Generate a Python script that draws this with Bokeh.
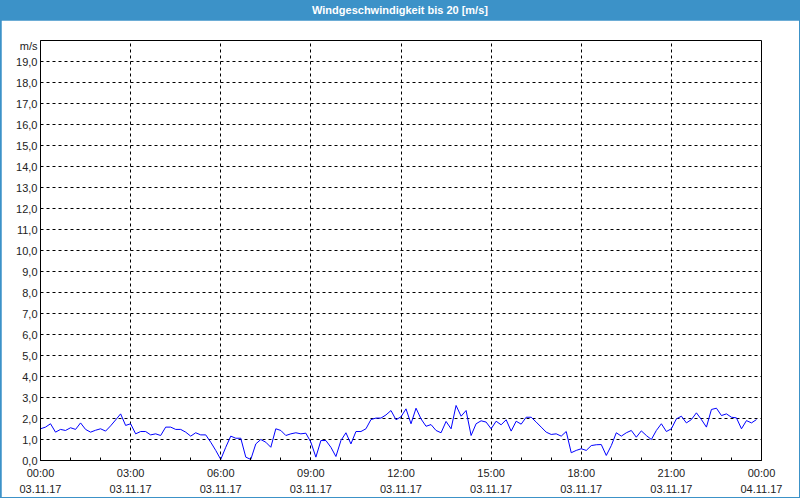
import pandas as pd
from bokeh.plotting import figure
from bokeh.models import Range1d, FixedTicker, DatetimeTickFormatter, Div
from bokeh.layouts import column
from bokeh.embed import file_html
from bokeh.resources import INLINE

title_text = "Windgeschwindigkeit bis 20 [m/s]"
unit_label = "m/s"
start = "2017-11-03 00:00"
end = "2017-11-04 00:00"

wind = [
    1.51, 1.59, 1.75, 1.35, 1.48, 1.43, 1.56, 1.48, 1.79, 1.48, 1.35, 1.44, 1.51, 1.40, 1.65, 1.93, 2.22, 1.67, 1.75, 1.27, 1.38, 1.38, 1.22, 1.27, 1.19,
    1.59, 1.59, 1.48, 1.48, 1.35, 1.16, 1.32, 1.22, 1.22, 0.87, 0.48, 0.05, 0.63, 1.16, 1.06, 1.06, 0.16, 0.05, 0.79, 1.00, 0.87, 0.63, 1.51, 1.43,
    1.19, 1.27, 1.32, 1.27, 1.30, 0.87, 0.16, 0.95, 0.95, 0.63, 0.19, 0.95, 1.32, 0.79, 1.38, 1.38, 1.51, 1.95, 2.02, 2.02, 2.17, 2.38, 1.94, 2.08,
    2.46, 1.75, 2.49, 1.98, 1.63, 1.71, 1.43, 1.32, 1.86, 1.51, 2.62, 2.11, 2.38, 1.19, 1.75, 1.89, 1.83, 1.51, 1.87, 1.70, 1.94, 1.40, 1.87, 1.73,
    2.06, 2.06, 1.83, 1.59, 1.35, 1.24, 1.27, 1.16, 1.38, 0.37, 0.48, 0.56, 0.48, 0.71, 0.75, 0.76, 0.24, 0.71, 1.32, 1.16, 1.32, 1.43, 1.11, 1.41,
    1.19, 1.00, 1.43, 1.75, 1.38, 1.51, 1.98, 2.11, 1.79, 1.95, 2.27, 1.95, 1.59, 2.43, 2.49, 2.14, 2.22, 2.06, 2.03, 1.51, 1.90, 1.79, 1.95,
]
times = pd.date_range(start, periods=len(wind), freq="10min")

y_ticks = list(range(0, 20))
y_tick_labels = {t: f"{t},0" for t in y_ticks}
unit_tick = 19.76  # where the unit caption sits on the value axis
y_tick_labels[unit_tick] = unit_label

t0 = pd.Timestamp(start)
t1 = pd.Timestamp(end)
ms = lambda t: t.value / 1e6
major_x = [ms(t) for t in pd.date_range(start, end, freq="3h")]
minor_x = [ms(t) for t in pd.date_range(start, end, freq="1h")]

FONT = "Liberation Sans"
TXT = "#222222"

p = figure(width=798, height=477, output_backend="svg", toolbar_location=None,
           x_axis_type="datetime",
           x_range=Range1d(t0, t1), y_range=Range1d(0, 20),
           min_border_left=39, min_border_right=38, min_border_top=20, min_border_bottom=37,
           background_fill_color="white", border_fill_color="white",
           margin=(0, 1, 1, 1))

p.line(times, wind, line_color="#0000ff", line_width=1)

p.outline_line_color = "black"
p.outline_line_width = 1

xa = p.xaxis[0]
xa.ticker = FixedTicker(ticks=major_x, minor_ticks=minor_x)
fmt = "%H:%M\n%d.%m.%y"
xa.formatter = DatetimeTickFormatter(microseconds=fmt, milliseconds=fmt, seconds=fmt, minsec=fmt,
                                     minutes=fmt, hourmin=fmt, hours=fmt, days=fmt, months=fmt, years=fmt)
xa.major_tick_in = 0
xa.major_tick_out = 0
xa.minor_tick_in = 3
xa.minor_tick_out = 0
xa.minor_tick_line_color = "black"
xa.axis_line_color = "black"
xa.major_label_standoff = 6
xa.major_label_text_font = FONT
xa.major_label_text_font_size = "11px"
xa.major_label_text_color = TXT
xa.major_label_text_line_height = 1.35

ya = p.yaxis[0]
ya.ticker = FixedTicker(ticks=y_ticks + [unit_tick])
ya.major_label_overrides = y_tick_labels
ya.major_tick_in = 0
ya.major_tick_out = 0
ya.minor_tick_line_color = None
ya.axis_line_color = "black"
ya.major_label_standoff = 3
ya.major_label_text_font = FONT
ya.major_label_text_font_size = "11px"
ya.major_label_text_color = TXT

p.xgrid[0].ticker = FixedTicker(ticks=major_x)
p.ygrid[0].ticker = FixedTicker(ticks=y_ticks)
for g in (p.xgrid[0], p.ygrid[0]):
    g.grid_line_color = "black"
    g.grid_line_dash = "3 3"
    g.grid_line_width = 1

title = Div(text=title_text, width=800, height=20, margin=0,
            styles={"background-color": "#3c92c8", "color": "white", "font-family": FONT,
                    "font-weight": "bold", "font-size": "11px", "text-align": "center",
                    "line-height": "20px", "width": "800px", "height": "20px"})

layout = column(title, p, spacing=0, styles={"background-color": "#3c92c8"})

open("out.html", "w").write(file_html(layout, INLINE))
